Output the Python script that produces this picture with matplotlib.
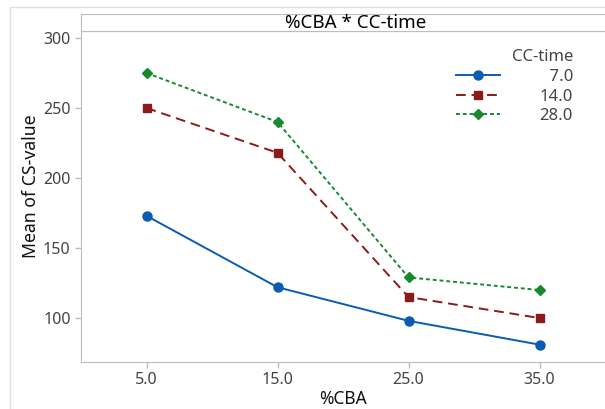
import matplotlib.pyplot as plt
from matplotlib.patches import Rectangle

plt.rcParams['font.family'] = ['Noto Sans', 'DejaVu Sans']

# Data
cba = [5.0, 15.0, 25.0, 35.0]
cs_7 = [173, 122, 98, 81]
cs_14 = [250, 218, 115, 100]
cs_28 = [275, 240, 129, 120]
xticks = [5.0, 15.0, 25.0, 35.0]
yticks = [100, 150, 200, 250, 300]

W, H = 605, 409
fig = plt.figure(figsize=(W/100, H/100), dpi=100)

grey = '#bdbdbd'

# outer frame
fig.patches.append(Rectangle((10/W, -0.05), 1.2, (H-7)/H + 0.05, transform=fig.transFigure,
                             fill=False, edgecolor='#e0e0e0', lw=1))

ax = fig.add_axes([81/W, (H-362)/H, 1.0 - 81/W, (362-31)/H])
# title band
tax = fig.add_axes([81/W, (H-31)/H, 1.0 - 81/W, 17/H])
tax.set_xticks([]); tax.set_yticks([])
for s in ['left', 'top', 'bottom']:
    tax.spines[s].set_color(grey)
tax.spines['right'].set_visible(False)
tax.text(0.525, 0.45, '%CBA * CC-time', ha='center', va='center', fontsize=13.5, color='black',
         transform=tax.transAxes)

ax.plot(cba, cs_7, color='#0a5cb0', lw=1.4, marker='o', ms=6.5, label='\u20077.0')
ax.plot(cba, cs_14, color='#8b1a1a', lw=1.4, ls=(0, (5, 3)), marker='s', ms=6, label='14.0')
ax.plot(cba, cs_28, color='#17892f', lw=1.4, ls=(0, (2, 1.5)), marker='D', ms=5, label='28.0')

ax.set_xlim(0, 40)
ax.set_ylim(68.6, 305)
ax.set_xticks(xticks)
ax.set_xticklabels([f'{v:.1f}' for v in xticks])
ax.set_yticks(yticks)
for s in ['left', 'bottom']:
    ax.spines[s].set_color(grey)
ax.spines['top'].set_color(grey)
ax.spines['right'].set_visible(False)
ax.tick_params(colors=grey, labelcolor='#444444', labelsize=11.5, length=4, width=1)

ax.set_xlabel('%CBA', fontsize=12.5, color='#111111', labelpad=1)
ax.set_ylabel('Mean of CS-value', fontsize=12.7, color='#111111')
ax.yaxis.set_label_coords(-0.078, 0.532)

leg = ax.legend(title='CC-time', frameon=False, loc='upper right', bbox_to_anchor=(0.939, 0.945),
                fontsize=12, title_fontsize=12, alignment='right', handlelength=2.6,
                handletextpad=2.4, labelspacing=0.22, borderpad=0, borderaxespad=0)
for t in leg.get_texts():
    t.set_color('#444444')
leg.get_title().set_color('#444444')

fig.savefig('out.png', dpi=100)
